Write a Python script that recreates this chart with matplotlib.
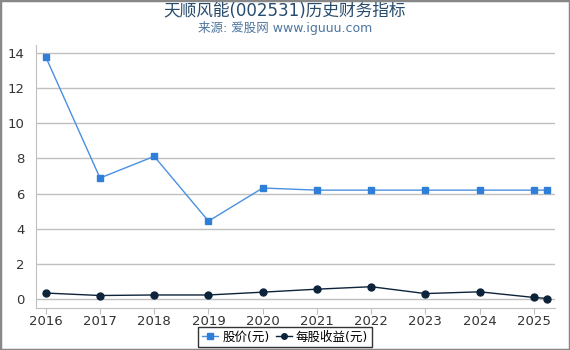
import matplotlib
matplotlib.use("Agg")
import matplotlib.pyplot as plt
from matplotlib.patches import Rectangle

plt.rcParams['font.family'] = ['DejaVu Sans', 'Noto Sans CJK SC']

years = [2016, 2017, 2018, 2019, 2020, 2021, 2022, 2023, 2024, 2025, 2025.25]
price = [13.77, 6.89, 8.12, 4.44, 6.32, 6.2, 6.2, 6.2, 6.2, 6.2, 6.2]
eps = [0.35, 0.21, 0.24, 0.24, 0.4, 0.57, 0.71, 0.32, 0.42, 0.1, 0.04]
xticks = [2016, 2017, 2018, 2019, 2020, 2021, 2022, 2023, 2024, 2025]
title = "天顺风能(002531)历史财务指标"
subtitle = "来源: 爱股网 www.iguuu.com"

fig = plt.figure(figsize=(5.7, 3.5), dpi=100)
ax = fig.add_axes([36/570, 1-308/350, (555-36)/570, (308-45)/350])

ax.plot(years, price, color='#4a90e2', lw=1, marker='s', ms=5,
        mfc='#2f7ed8', mec='#2f7ed8', label='股价(元)', zorder=3)
ax.plot(years, eps, color='#0d233a', lw=1, marker='o', ms=5,
        mfc='#0d233a', mec='#0d233a', label='每股收益(元)', zorder=3)

ax.set_xlim(2015.82, 2025.39)
ax.set_ylim(-0.5, 14.45)
ax.set_yticks([0, 2, 4, 6, 8, 10, 12, 14])
ax.set_xticks(xticks)
ax.set_xticklabels([str(x) for x in xticks])
ax.grid(axis='y', color='#c0c0c0', lw=1)
ax.set_axisbelow(True)
for s in ['top', 'right']:
    ax.spines[s].set_visible(False)
for s in ['left', 'bottom']:
    ax.spines[s].set_color('#c0c0c0')
ax.tick_params(axis='y', length=0, labelsize=9.5, colors='#333333', pad=8)
ax.tick_params(axis='x', length=4, color='#c0c0c0', labelsize=9.5, colors='#333333', pad=1)

fig.text(0.5, 1-11/350, title, ha='center', va='center', fontsize=12, color='#274b6d')
fig.text(0.5, 1-28/350, subtitle, ha='center', va='center', fontsize=9, color='#4d759e')

leg = fig.legend(loc='center', bbox_to_anchor=(0.5, 1-337/350), ncol=2, frameon=True,
                 fontsize=9, handlelength=1.3, handletextpad=0.3, columnspacing=0.5,
                 borderpad=0.3, fancybox=False, markerscale=0.8)
leg.get_frame().set_edgecolor('black')
leg.get_frame().set_linewidth(1)

fig.patches.append(Rectangle((0, 0), 1, 1, transform=fig.transFigure, fill=False,
                             edgecolor='#888888', lw=2.5))
fig.savefig('out.png', dpi=100)
